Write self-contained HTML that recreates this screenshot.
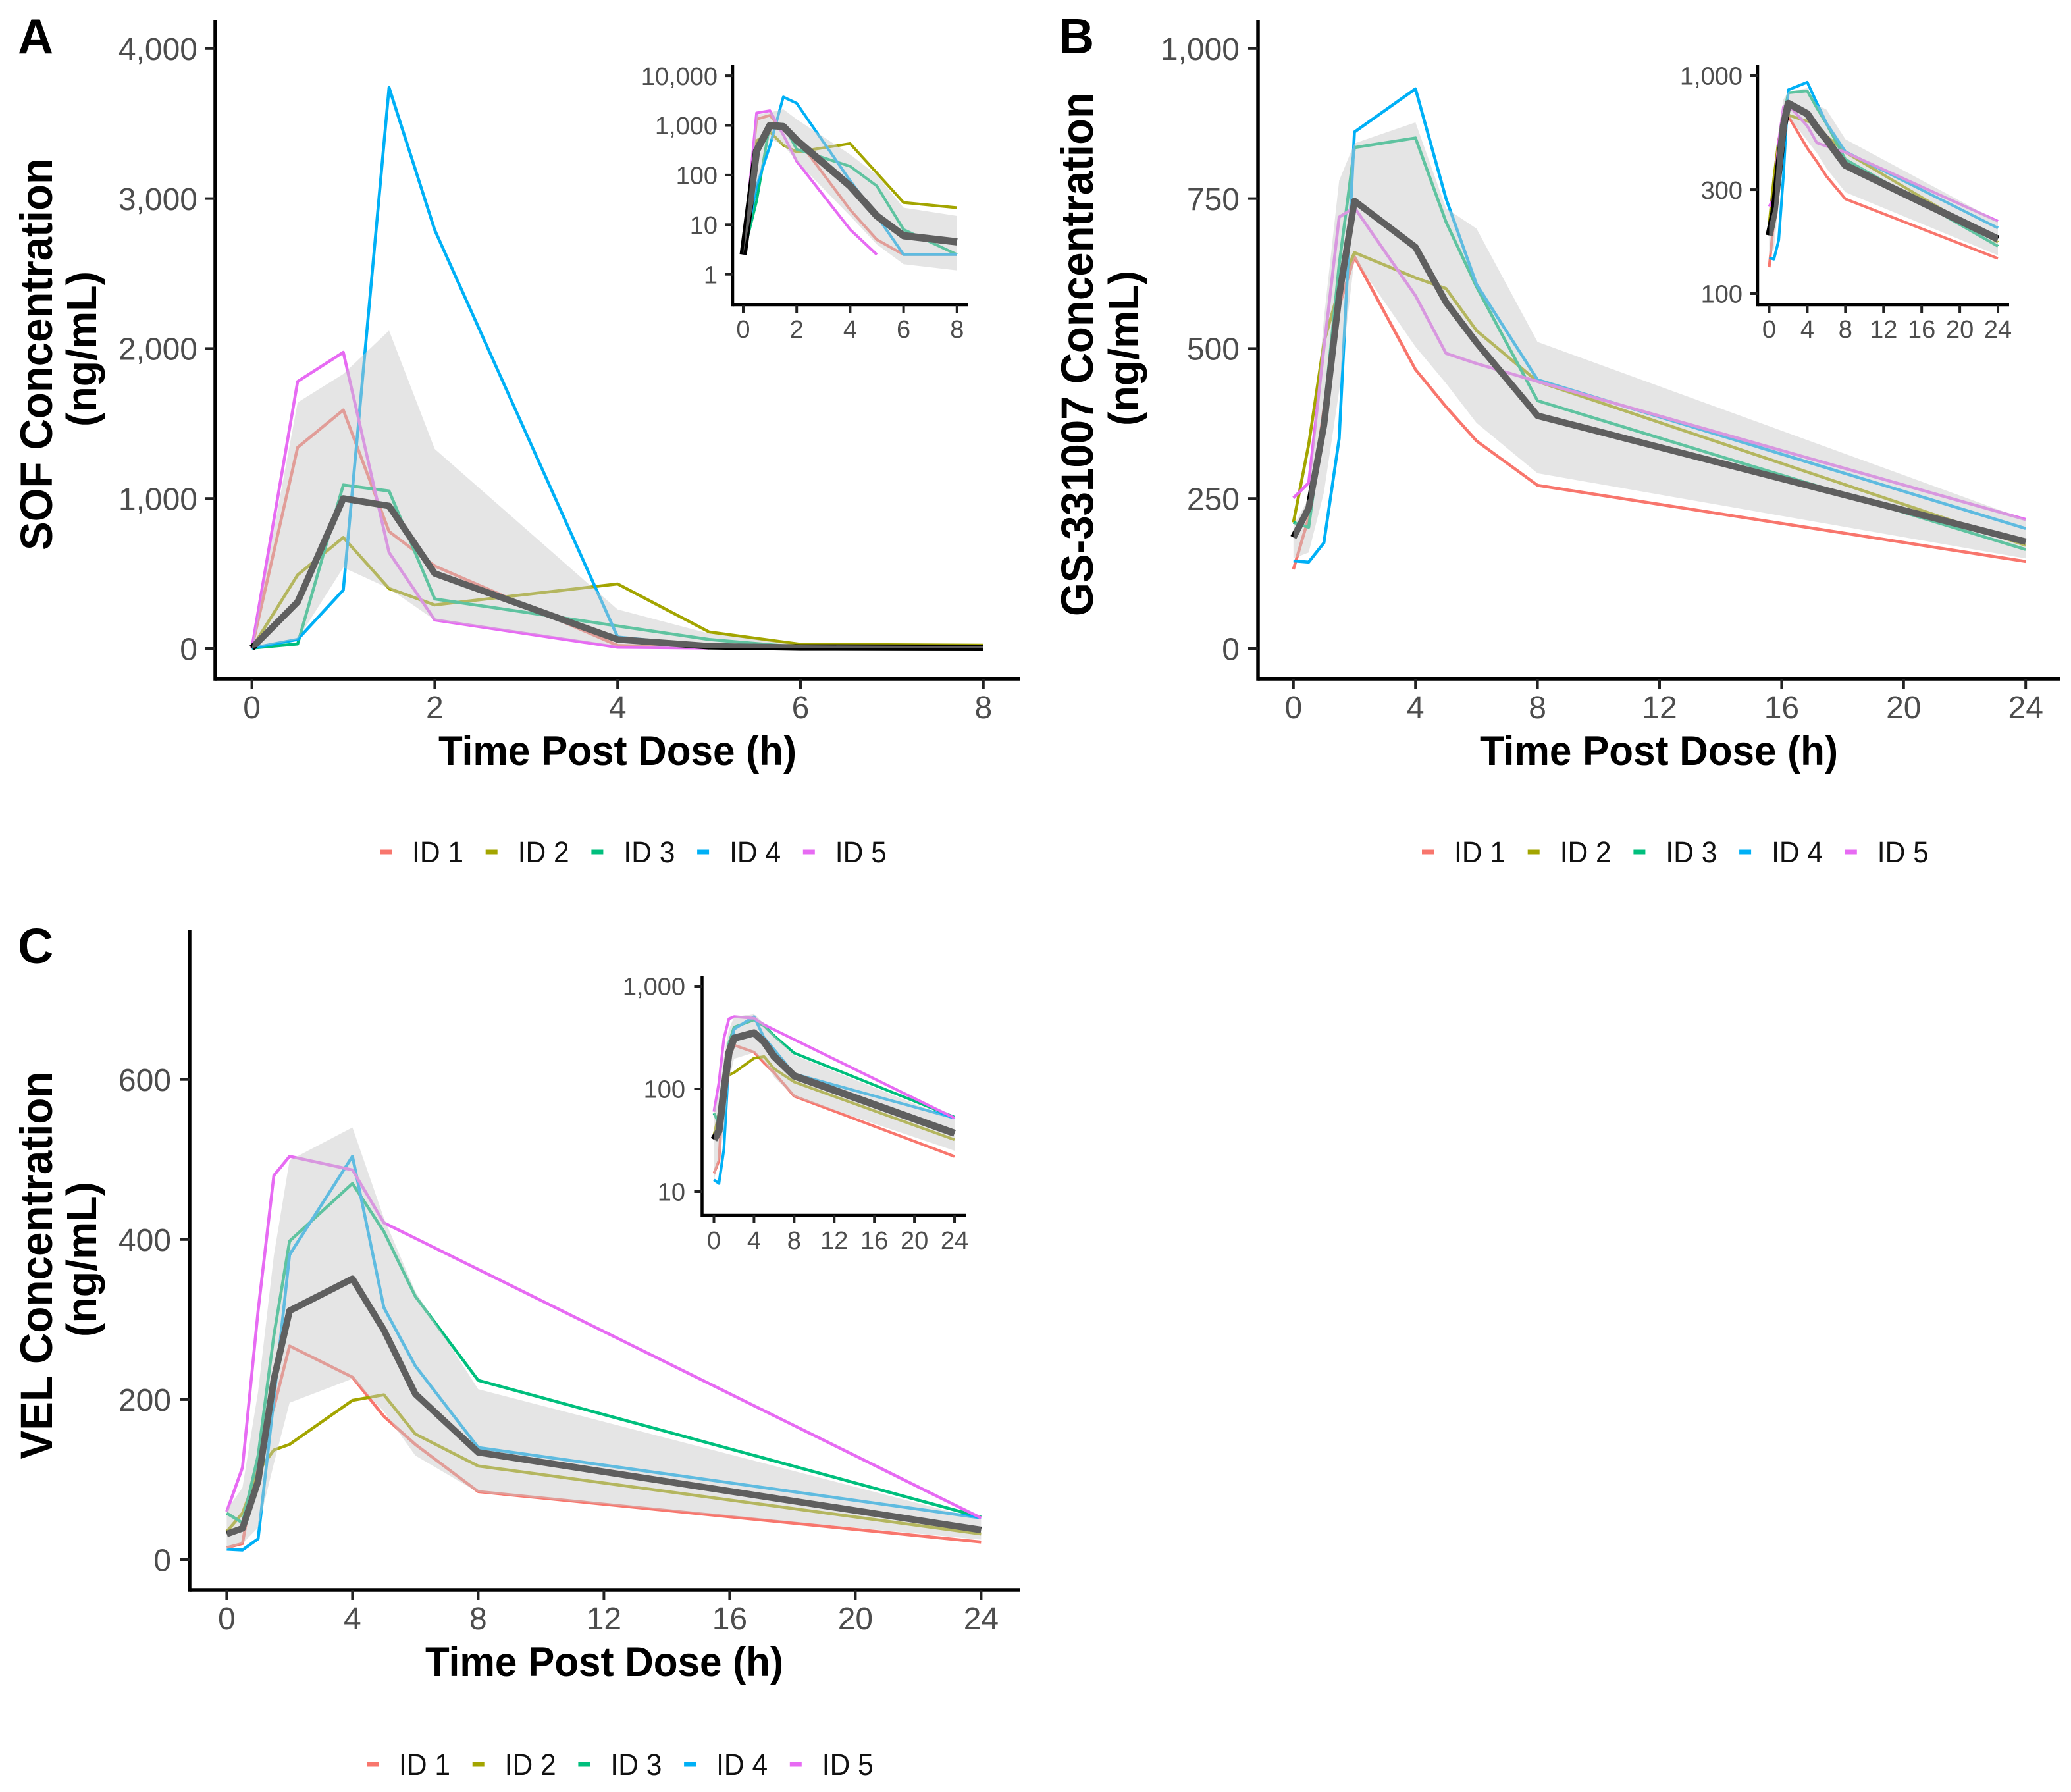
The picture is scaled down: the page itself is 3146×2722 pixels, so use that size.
<!DOCTYPE html>
<html lang="en">
<head>
<meta charset="utf-8">
<title>Concentration-time profiles</title>
<style>
html,body{margin:0;padding:0;background:#fff;}
svg{display:block;font-family:"Liberation Sans",sans-serif;}
.title{font-weight:700;fill:#000;}
</style>
</head>
<body>
<svg id="figure" xmlns="http://www.w3.org/2000/svg" width="3146" height="2722" viewBox="0 0 3146 2722">
  <rect x="0" y="0" width="3146" height="2722" fill="#ffffff"/>

  <text class="title" x="27" y="81" font-size="75">A</text>
  <text class="title" x="1608" y="81" font-size="75">B</text>
  <text class="title" x="27" y="1463" font-size="75">C</text>

  <text class="title" font-size="69" text-anchor="middle" textLength="596" lengthAdjust="spacingAndGlyphs" transform="translate(79 538) rotate(-90)">SOF Concentration</text>
  <text class="title" font-size="64" text-anchor="middle" textLength="236" lengthAdjust="spacingAndGlyphs" transform="translate(146 530) rotate(-90)">(ng/mL)</text>
  <text class="title" font-size="69" text-anchor="middle" textLength="796" lengthAdjust="spacingAndGlyphs" transform="translate(1660 538) rotate(-90)">GS-331007 Concentration</text>
  <text class="title" font-size="64" text-anchor="middle" textLength="236" lengthAdjust="spacingAndGlyphs" transform="translate(1729 529) rotate(-90)">(ng/mL)</text>
  <text class="title" font-size="69" text-anchor="middle" textLength="589" lengthAdjust="spacingAndGlyphs" transform="translate(79 1922) rotate(-90)">VEL Concentration</text>
  <text class="title" font-size="64" text-anchor="middle" textLength="236" lengthAdjust="spacingAndGlyphs" transform="translate(146 1913) rotate(-90)">(ng/mL)</text>

  <text class="title" x="938" y="1162" font-size="63" text-anchor="middle" textLength="544" lengthAdjust="spacingAndGlyphs">Time Post Dose (h)</text>
  <text class="title" x="2520" y="1162" font-size="63" text-anchor="middle" textLength="544" lengthAdjust="spacingAndGlyphs">Time Post Dose (h)</text>
  <text class="title" x="918" y="2546" font-size="63" text-anchor="middle" textLength="544" lengthAdjust="spacingAndGlyphs">Time Post Dose (h)</text>

  <g id="plots"></g>
</svg>

<script>
// ---------- Series identity ----------
const legendLabels = ["ID 1", "ID 2", "ID 3", "ID 4", "ID 5"];

// ---------- Panel A: SOF ----------
const sofTimes = [0, 0.5, 1, 1.5, 2, 4, 5, 6, 8];
const sofId1 = [2.5, 1340, 1590, 780, 550, 20, 5, 2.5, 2.5];
const sofId2 = [2.5, 490, 740, 400, 290, 430, 110, 28, 22];
const sofId3 = [2.5, 30, 1090, 1050, 330, 150, 60, 8, 2.5];
const sofId4 = [2.5, 60, 390, 3740, 2790, 77, 15, 2.5, 2.5];
const sofId5 = [2.5, 1780, 1975, 640, 190, 8, 2.5];
const sofMean = [2.5, 310, 1000, 950, 500, 60, 15, 6, 4.5];
const sofUpper = [2.5, 1640, 1830, 2120, 1330, 260, 100, 22, 15];
const sofLower = [2.5, 60, 540, 400, 190, 15, 4, 1.6, 1.2];
const sofXTicks = [0, 2, 4, 6, 8];
const sofYTicks = [0, 1000, 2000, 3000, 4000];
const sofLogTicks = [1, 10, 100, 1000, 10000];

// ---------- Panel B: GS-331007 ----------
const gsTimes = [0, 0.5, 1, 1.5, 2, 4, 5, 6, 8, 24];
const gsId1 = [132, 218, 400, 570, 653, 465, 403, 346, 272, 145];
const gsId2 = [210, 340, 510, 600, 660, 618, 600, 530, 445, 172];
const gsId3 = [210, 202, 390, 640, 835, 851, 711, 603, 413, 165];
const gsId4 = [146, 144, 176, 350, 861, 933, 750, 607, 448, 200];
const gsId5 = [251, 276, 500, 719, 735, 588, 492, 475, 445, 215];
const gsMean = [185, 234, 372, 588, 746, 669, 577, 510, 388, 178];
const gsUpper = [205, 250, 550, 780, 842, 877, 734, 700, 511, 215];
const gsLower = [150, 160, 260, 430, 650, 503, 442, 376, 292, 150];
const gsXTicks = [0, 4, 8, 12, 16, 20, 24];
const gsYTicks = [0, 250, 500, 750, 1000];
const gsLogTicks = [100, 300, 1000];

// ---------- Panel C: VEL ----------
const velTimes = [0, 0.5, 1, 1.5, 2, 4, 5, 6, 8, 24];
const velId5Times = [0, 0.5, 1, 1.5, 2, 4, 5, 24];
const velId1 = [15, 20, 130, 190, 267, 228, 179, 144, 85, 22];
const velId2 = [35, 58, 110, 137, 144, 199, 206, 157, 117, 32];
const velId3 = [58, 46, 130, 280, 398, 470, 410, 329, 224, 53];
const velId4 = [13, 12, 26, 200, 381, 504, 315, 242, 140, 52];
const velId5 = [60, 115, 311, 480, 504, 487, 421, 52];
const velMean = [32, 39, 98, 225, 311, 351, 287, 207, 134, 37];
const velUpper = [62, 90, 210, 380, 499, 540, 427, 335, 213, 50];
const velLower = [13, 20, 40, 120, 196, 226, 185, 130, 84, 25];
const velXTicks = [0, 4, 8, 12, 16, 20, 24];
const velYTicks = [0, 200, 400, 600];
const velLogTicks = [10, 100, 1000];

const seriesColors = ["#F8766D", "#A3A500", "#00BF7D", "#00B0F6", "#E76BF3"];
const NS = "http://www.w3.org/2000/svg";
const plots = document.getElementById("plots");

function make(tag, attrs, parent) {
  const el = document.createElementNS(NS, tag);
  for (const k in attrs) el.setAttribute(k, attrs[k]);
  parent.appendChild(el);
  return el;
}
function fmt(v) {
  return v.toLocaleString("en-US");
}
function pathFrom(times, values, sx, sy) {
  return values.map((v, i) => (i ? "L" : "M") + sx(times[i]).toFixed(1) + " " + sy(v).toFixed(1)).join(" ");
}

function drawPlot(prefix, box, sx, sy, times, idTimes, ids, mean, upper, lower, xTicks, yTicks, st) {
  const g = make("g", {}, plots);
  
  

  ids.forEach((vals, i) => {
    const line = make("path", {
      d: pathFrom(idTimes[i], vals, sx, sy), fill: "none", stroke: seriesColors[i],
      "stroke-width": st.line, "stroke-linejoin": "round"
    }, g);
    
    
  });

  const meanLine = make("path", {
    d: pathFrom(times, mean, sx, sy), fill: "none", stroke: "#000000",
    "stroke-width": st.mean, "stroke-linejoin": "round"
  }, g);
  
  

  const top = upper.map((v, i) => sx(times[i]).toFixed(1) + "," + sy(v).toFixed(1));
  const bottom = lower.map((v, i) => sx(times[i]).toFixed(1) + "," + sy(v).toFixed(1)).reverse();
  const band = make("polygon", { points: top.concat(bottom).join(" "), fill: "rgb(200,200,200)", "fill-opacity": 0.475 }, g);
  
  

  const yAxis = make("line", { x1: box.left, x2: box.left, y1: box.top, y2: box.bottom + st.axis / 2, stroke: "#000", "stroke-width": st.axis }, g);
  
  
  const xAxis = make("line", { x1: box.left, x2: box.right, y1: box.bottom, y2: box.bottom, stroke: "#000", "stroke-width": st.axis }, g);
  
  

  xTicks.forEach(t => {
    const tick = make("line", { x1: sx(t), x2: sx(t), y1: box.bottom, y2: box.bottom + st.tick, stroke: "#222", "stroke-width": st.tickW }, g);
    
    
    const label = make("text", { x: sx(t), y: box.xBase, "text-anchor": "middle", "font-size": st.font, fill: "#4d4d4d" }, g);
    
    
    label.textContent = fmt(t);
  });
  yTicks.forEach(v => {
    const y = sy(v);
    const tick = make("line", { x1: box.left - st.tick, x2: box.left, y1: y, y2: y, stroke: "#222", "stroke-width": st.tickW }, g);
    
    
    const label = make("text", { x: box.yLabelX, y: y + st.font * 0.36, "text-anchor": "end", "font-size": st.font, fill: "#4d4d4d" }, g);
    
    
    label.textContent = fmt(v);
  });
}

function drawLegend(prefix, keyX, y) {
  const g = make("g", {}, plots);
  
  
  legendLabels.forEach((name, i) => {
    const x = keyX + i * 160.7;
    const key = make("rect", { x: x, y: y - 3.5, width: 18, height: 7, fill: seriesColors[i] }, g);
    
    
    const label = make("text", { x: x + 49, y: y + 16, "font-size": 45, fill: "#111", textLength: 78, lengthAdjust: "spacingAndGlyphs" }, g);
    
    
    label.textContent = name;
  });
}

const mainStyle = { line: 4.6, mean: 10, axis: 5.5, tick: 15, tickW: 4, font: 48 };
const insetStyle = { line: 4.2, mean: 11, axis: 4.5, tick: 12, tickW: 4, font: 38 };

function linear(origin, perUnit) { return v => origin + v * perUnit; }
function logScale(y1, perDecade, base) { return v => y1 - (Math.log10(v) - Math.log10(base)) * perDecade; }

// Panel A
const sofIds = [sofId1, sofId2, sofId3, sofId4, sofId5];
const sofIdTimes = [sofTimes, sofTimes, sofTimes, sofTimes, sofTimes];
drawPlot("panel-a", { left: 327, right: 1549, top: 30, bottom: 1031, xBase: 1091, yLabelX: 300 },
  linear(382.6, 138.9), linear(985, -0.2278), sofTimes, sofIdTimes, sofIds, sofMean, sofUpper, sofLower, sofXTicks, sofYTicks, mainStyle);
drawPlot("panel-a-inset", { left: 1113, right: 1470, top: 99, bottom: 463, xBase: 513, yLabelX: 1090 },
  linear(1129, 40.6), logScale(416.7, 75.4, 1), sofTimes, sofIdTimes, sofIds, sofMean, sofUpper, sofLower, sofXTicks, sofLogTicks, insetStyle);
drawLegend("panel-a", 577, 1294);

// Panel B
const gsIds = [gsId1, gsId2, gsId3, gsId4, gsId5];
const gsIdTimes = [gsTimes, gsTimes, gsTimes, gsTimes, gsTimes];
drawPlot("panel-b", { left: 1911, right: 3130, top: 30, bottom: 1031, xBase: 1091, yLabelX: 1883 },
  linear(1964.8, 46.35), linear(985, -0.9112), gsTimes, gsIdTimes, gsIds, gsMean, gsUpper, gsLower, gsXTicks, gsYTicks, mainStyle);
drawPlot("panel-b-inset", { left: 2670, right: 3052, top: 99, bottom: 463, xBase: 513, yLabelX: 2647 },
  linear(2687.5, 14.48), logScale(446, 331, 100), gsTimes, gsIdTimes, gsIds, gsMean, gsUpper, gsLower, gsXTicks, gsLogTicks, insetStyle);
drawLegend("panel-b", 2160, 1294);

// Panel C
const velIds = [velId1, velId2, velId3, velId4, velId5];
const velIdTimes = [velTimes, velTimes, velTimes, velTimes, velId5Times];
drawPlot("panel-c", { left: 288, right: 1549, top: 1413, bottom: 2415, xBase: 2475, yLabelX: 260 },
  linear(344.4, 47.75), linear(2369, -1.2155), velTimes, velIdTimes, velIds, velMean, velUpper, velLower, velXTicks, velYTicks, mainStyle);
drawPlot("panel-c-inset", { left: 1066.5, right: 1468, top: 1483, bottom: 1846, xBase: 1897, yLabelX: 1041 },
  linear(1084.5, 15.23), logScale(1810, 156, 10), velTimes, velIdTimes, velIds, velMean, velUpper, velLower, velXTicks, velLogTicks, insetStyle);
drawLegend("panel-c", 557, 2680);
</script>
</body>
</html>
